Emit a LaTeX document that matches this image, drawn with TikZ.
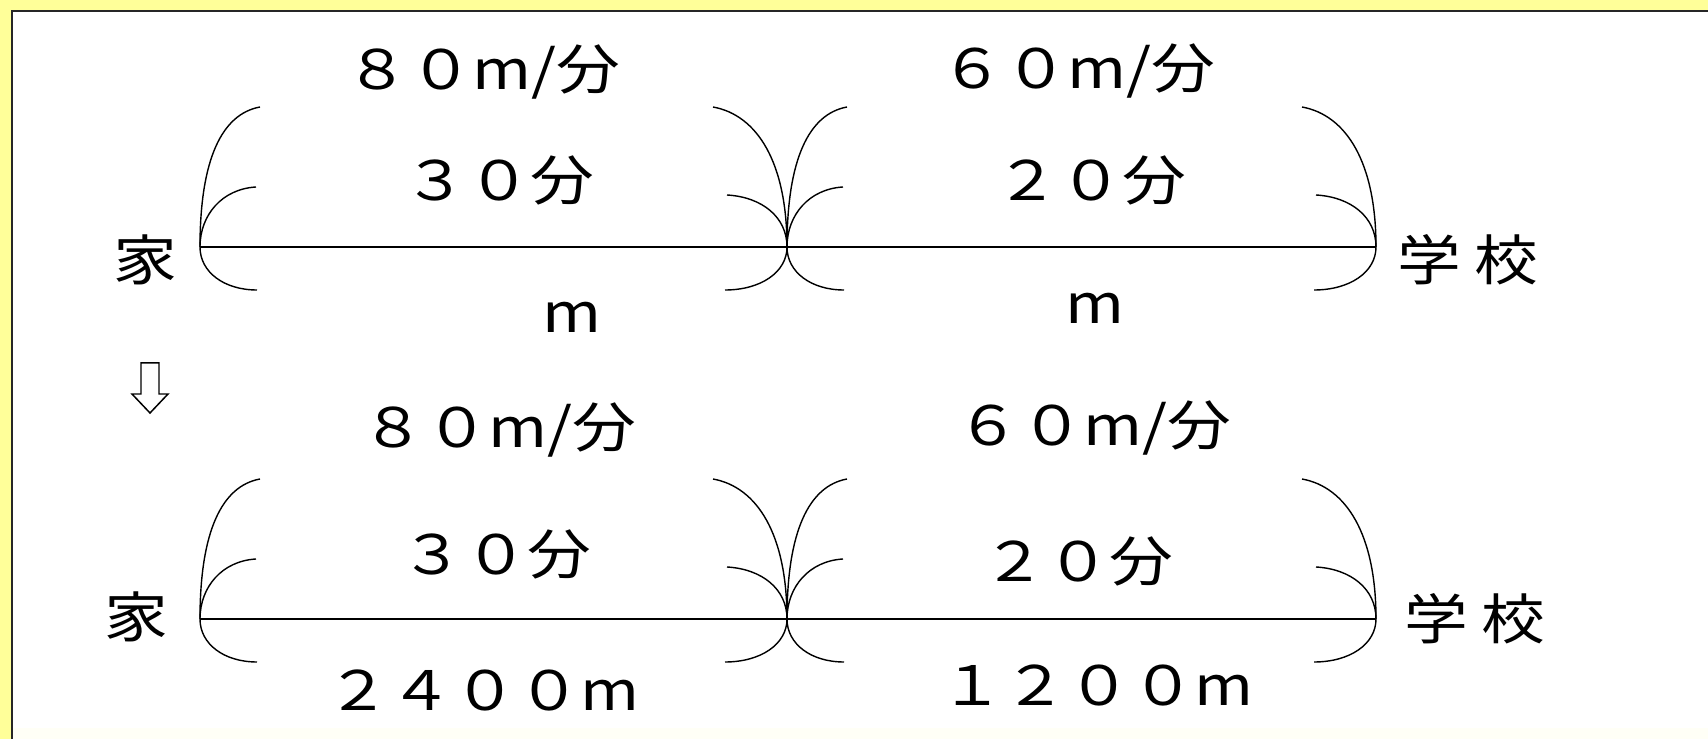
\documentclass[tikz,border=0pt]{standalone}
\usepackage{fontspec}
\newfontfamily\jpfont[FakeStretch=1.17]{Noto Sans CJK JP}
\definecolor{frameyellow}{RGB}{255,255,153}
\definecolor{creamstrip}{RGB}{255,255,246}
\tikzset{
	lbl/.style={font=\jpfont\fontsize{31}{31}\selectfont, inner sep=0pt, anchor=center},
	road/.style={line width=1.1pt},
	arcline/.style={line width=0.8pt},
	opener/.pic={
		\draw[arcline] (0,0) .. controls (0,-88) and (22,-133) .. (60,-140);
		\draw[arcline] (0,0) .. controls (0,-32) and (22,-58) .. (56,-60);
		\draw[arcline] (0,0) .. controls (0,25) and (24,43) .. (57,43);
	},
	closer/.pic={
		\draw[arcline] (0,0) .. controls (0,-85) and (-30,-132) .. (-74,-140);
		\draw[arcline] (0,0) .. controls (0,-30) and (-25,-50) .. (-60,-52);
		\draw[arcline] (0,0) .. controls (0,25) and (-26,43) .. (-62,43);
	}
}
\begin{document}
\begin{tikzpicture}[x=0.02cm, y=-0.02cm]
	\useasboundingbox (0,0) rectangle (1708,739);
	\fill[frameyellow] (0,0) rectangle (1708,739);
	\fill[white] (12,11) rectangle (1708,739);
	\fill[creamstrip] (13,728) rectangle (1708,739);
	\draw[line width=1.2pt, black!85] (12,739) -- (12,11) -- (1708,11);
	\coordinate (startA) at (200,247);
	\coordinate (midA) at (787,247);
	\coordinate (endA) at (1376,247);
	\coordinate (startB) at (200,619);
	\coordinate (midB) at (787,619);
	\coordinate (endB) at (1376,619);
	\draw[road] (startA) -- (midA) -- (endA);
	\draw[road] (startB) -- (midB) -- (endB);
	\pic at (startA) {opener};
	\pic at (midA) {closer};
	\pic at (midA) {opener};
	\pic at (endA) {closer};
	\pic at (startB) {opener};
	\pic at (midB) {closer};
	\pic at (midB) {opener};
	\pic at (endB) {closer};
	\node[lbl] (homeA) at (145,260) {家};
	\node[lbl] (schoolA) at (1468,260) {学\kern.25em 校};
	\node[lbl] (speedAl) at (483,72) {８０m/分};
	\node[lbl] (timeAl) at (499,180) {３０分};
	\node[lbl] (distAl) at (572,317) {m};
	\node[lbl] (speedAr) at (1078,71) {６０m/分};
	\node[lbl] (timeAr) at (1091,180) {２０分};
	\node[lbl] (distAr) at (1095,308) {m};
	\draw[line width=0.85pt] (141,363) -- (159,363) -- (159,394) -- (168,394) -- (150,413) -- (132,394) -- (141,394) -- cycle;
	\node[lbl] (homeB) at (136,617) {家};
	\node[lbl] (schoolB) at (1475,619) {学\kern.25em 校};
	\node[lbl] (speedBl) at (499,430) {８０m/分};
	\node[lbl] (timeBl) at (496,554) {３０分};
	\node[lbl] (distBl) at (483,690) {２４００m};
	\node[lbl] (speedBr) at (1094,428) {６０m/分};
	\node[lbl] (timeBr) at (1078,561) {２０分};
	\node[lbl] (distBr) at (1097,685) {１２００m};
\end{tikzpicture}
\end{document}
